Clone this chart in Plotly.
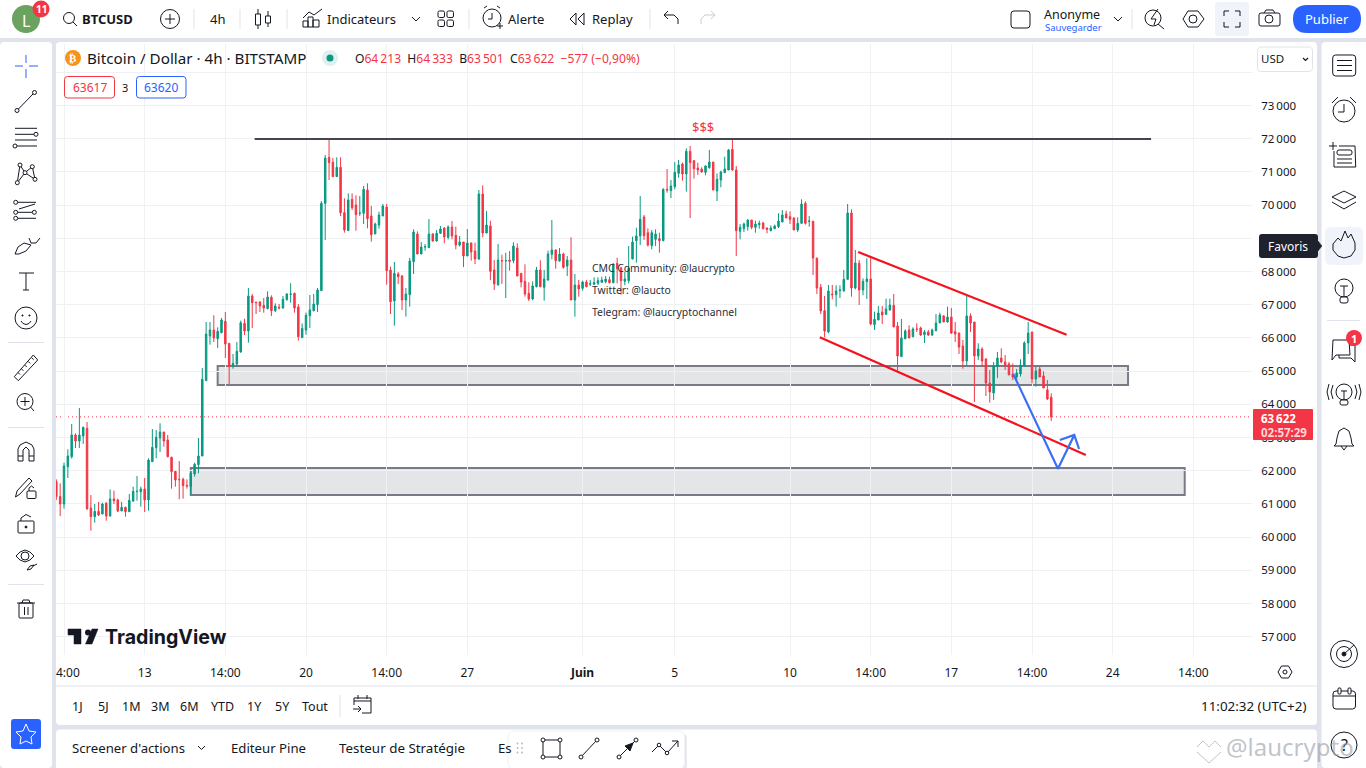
import plotly.graph_objects as go
import pandas as pd

# ---------- chart data ----------
opens = [
61670,61220,60997,62122,62423,63075,62895,63045,63276,60877,
60616,60776,60696,61017,60636,61148,61118,60786,60897,60766,
61088,61369,61369,61449,61118,62272,62694,62985,63166,62925,
62403,61981,61740,61740,61559,61519,61901,62182,62443,64712,
66057,66238,65977,66158,66499,65836,65154,65214,65575,66439,
66208,67262,67081,67081,66981,66881,67222,66820,66921,66901,
67152,67312,67342,66931,66007,66238,66670,66820,67001,67423,
70053,71439,71288,70856,71138,69772,69230,70174,70003,69752,
69752,70455,69672,69130,69401,69672,69943,68045,67112,67925,
67864,67142,67302,68296,69130,68527,68738,68718,69130,68919,
69150,69310,69029,69340,69089,68798,68889,68467,68858,68617,
68377,70334,69160,69370,68045,67593,68326,68316,68346,68326,
68708,67945,67704,67342,67172,67543,68045,67523,67744,68517,
68648,68316,68527,68166,68346,67142,67593,67493,67684,67613,
67613,67644,67674,67694,67754,67664,68246,68105,67704,67724,
68377,68929,69069,69642,69170,68778,68969,68989,68929,70475,
70435,70555,70957,71238,70937,71619,71338,71117,71087,70987,
71127,71298,70425,70756,70977,71057,71680,71057,69210,69290,
69350,69551,69330,69411,69461,69310,69230,69290,69350,69491,
69732,69652,69611,69250,69451,70053,69511,
69511,68407,67524,66821,66178,67323,67303,67423,67423,67764,
69762,67503,68246,67443,67694,67775,66399,66540,66781,66710,
66841,66981,66359,65435,65977,66238,66038,66268,66299,66098,
66178,66088,66218,66449,66660,66479,66630,66188,66148,65756,
65305,66660,66479,65455,65666,65365,64642,64341,65134,65395,
65275,65214,64913,64823,64913,65154,65847,66178,64762,65064,
64853,64431,64213]
highs = [
61740,61620,62242,62644,63407,63126,63889,63326,63467,61268,
60997,61057,61037,61057,61439,61399,61158,61057,60917,61298,
61519,61840,61519,61780,62373,63256,63226,63427,63166,63075,
62423,61981,62292,61790,61740,61981,62242,62985,65093,66479,
66479,66680,66318,66599,66780,65836,65515,65876,66519,66579,
67503,67322,67081,67101,67202,67403,67282,67041,67021,67262,
67342,67644,67362,67021,66439,66760,67292,67322,67503,70123,
71509,71991,71419,71439,71439,70204,70354,70354,70294,70274,
70575,70656,69973,69471,69802,70033,70033,68146,68286,67985,
67895,67503,68407,69270,69210,68889,68828,69581,69150,69250,
69370,69330,69391,69521,69350,69069,68889,69280,68868,68868,
70455,70595,69822,69531,68346,68828,68507,68567,68617,68878,
68848,67945,68216,67674,67704,68135,68336,68045,68628,69551,
68668,68708,68567,68467,69029,67925,67744,67724,67744,67744,
67824,67824,67844,67864,67844,68246,68417,68146,67995,68768,
69049,69320,70274,69702,69300,69250,69270,69170,70505,71087,
70756,71298,71358,71278,71710,71780,71358,71278,71138,71198,
71660,71298,70957,71037,71459,71690,71981,71178,69431,69471,
69571,69551,69531,69531,69491,69330,69391,69411,69752,69852,
69832,69812,69631,69631,70174,70113,69672,
69532,68407,67624,67262,67594,67594,67584,67584,68046,70034,
69873,68648,68347,67795,68397,68427,66791,66961,66961,67182,
67182,67323,66479,66570,66258,66379,66319,66439,66339,66238,
66238,66279,66720,66761,66690,66941,66901,66479,66158,65937,
67262,66740,66479,65837,65716,65385,65034,65275,65576,65686,
65485,65275,65234,65064,65355,65897,66479,66178,65134,65134,
64993,64732,64333]
lows = [
61120,60635,60857,61780,62363,62684,62684,62804,60816,60194,
60435,60636,60696,60495,60616,60997,60756,60786,60616,60756,
61057,61098,60917,60756,60796,62262,62373,62563,62724,62403,
61459,61519,61138,61158,61459,61278,61820,61921,62443,64712,
65796,65876,65696,66138,65395,64612,65073,65154,65555,66087,
65856,66298,66720,66780,66760,66860,66660,66780,66860,66881,
67122,67061,66760,65917,65997,66097,66298,66800,66780,67423,
68949,70756,70856,70856,69672,69170,69230,69852,69230,69672,
69431,69300,68899,69130,69290,69672,67603,66720,66368,67624,
66840,66640,66941,67925,68527,68527,68627,68718,68899,68899,
69130,68848,68969,68969,68668,68748,68135,68467,68326,68226,
68346,69029,69150,67744,67443,67583,67624,67202,68025,68246,
67864,67523,67242,67112,67132,67523,67523,67122,67724,68366,
68085,68296,68085,67864,67142,66640,67242,67423,67523,67563,
67593,67593,67664,67644,67644,67644,67644,67302,67583,67644,
68366,68266,68798,68949,68748,68668,68768,68567,68909,70374,
70214,70475,70826,70736,70405,69611,70796,70907,70977,70897,
71097,70455,70123,70535,70977,71057,71037,68467,68969,69190,
69230,69270,69170,69290,69270,69150,69210,69270,69310,69491,
69611,69431,69250,69190,69431,69411,69350,
67895,67323,66720,66018,66138,67162,66941,67202,67383,67744,
67242,67463,66991,67283,67172,66379,66238,66540,66419,66690,
66821,66329,65014,65435,65957,65997,66018,66178,66058,65847,
66058,66058,66198,66449,66479,66459,66118,65877,65516,65074,
65154,66178,64070,65335,65134,64250,64050,64130,64793,65234,
65034,64883,64732,64732,64833,65134,65516,64632,64532,64823,
64491,64130,63501]
closes = [
61220,61000,62142,62443,63075,62895,63075,63306,60857,60616,
60776,60666,60997,60636,61148,61098,60786,60897,60766,61108,
61379,61379,61449,61118,62322,62704,63005,63166,62895,62423,
61971,61720,61730,61549,61539,61921,62192,62443,64752,66117,
66238,65997,66198,66539,65816,65134,65234,65595,66459,66208,
67262,67061,67061,66961,66901,67232,66820,66961,66901,67162,
67322,67322,66901,66037,66288,66680,66840,67021,67443,70053,
71419,71278,70856,71138,69772,69250,70154,69923,69712,69762,
70475,69591,69110,69431,69702,69973,68025,67091,67945,67844,
67142,67322,68316,69190,68527,68738,68748,69130,68919,69150,
69280,69039,69340,69069,68798,68889,68467,68858,68587,68377,
70334,69160,69401,68005,67624,68346,68316,68326,68306,68768,
67864,67684,67322,67172,67563,68045,67543,67774,68527,68648,
68326,68527,68125,68346,67142,67593,67473,67684,67543,67634,
67664,67724,67744,67774,67664,68226,68085,67724,67774,68095,
68889,69069,69571,69079,68798,69170,69130,68929,70475,70455,
70575,70987,71208,70937,71619,71278,71097,71057,70997,71178,
71298,70455,70776,70997,71087,71660,71057,69230,69330,69431,
69551,69330,69431,69451,69290,69270,69310,69370,69521,69702,
69611,69571,69250,69451,70033,69451,69521,
68407,67503,66811,66208,67413,67303,67413,67443,67764,69762,
67503,68256,67443,67704,67775,66419,66560,66750,66690,66871,
66991,66329,65455,65997,66208,65997,66268,66258,66088,66178,
66088,66238,66449,66690,66479,66630,66148,66118,65726,65305,
66660,66449,65455,65666,65305,64642,64371,65154,65395,65275,
65154,64883,64823,64943,65184,65847,66148,64762,65004,64823,
64491,64160,63622]
assert len(opens) == len(highs) == len(lows) == len(closes)
last_bar = "2024-06-21 10:00"

price_ticks = [74000,73000,72000,71000,70000,69000,68000,67000,66000,65000,64000,63000,62000,61000,60000,59000,58000,57000]
time_ticks = ["2024-05-09 14:00","2024-05-13 02:00","2024-05-16 14:00","2024-05-20 02:00","2024-05-23 14:00",
              "2024-05-27 02:00","2024-06-01 02:00","2024-06-05 02:00","2024-06-10 02:00","2024-06-13 14:00",
              "2024-06-17 02:00","2024-06-20 14:00","2024-06-24 02:00","2024-06-27 14:00"]
time_labels = ["","13","14:00","20","14:00","27","<b>Juin</b>","5","10","14:00","17","14:00","24","14:00"]

resistance_t = ["2024-05-17 20:30","2024-06-25 18:00"]
resistance_p = [71990,71990]
zone_upper_t = ["2024-05-16 06:00","2024-06-24 18:00"]
zone_upper_p = [64580,65154]
zone_lower_t = ["2024-05-15 02:00","2024-06-27 05:00"]
zone_lower_p = [61268,62081]
channel_top_t = ["2024-06-13 01:00","2024-06-22 02:00"]
channel_top_p = [68587,66096]
channel_bot_t = ["2024-06-11 09:00","2024-06-22 22:00"]
channel_bot_p = [66018,62473]
forecast_t = ["2024-06-19 18:30","2024-06-21 17:00","2024-06-22 10:00"]
forecast_p = [64913,62060,63075]
arrow_t = ["2024-06-21 19:00","2024-06-22 10:00","2024-06-22 15:00"]
arrow_p = [62925,63075,62654]

# ---------- page geometry ----------
W, H = 1366, 768
FONT = "Noto Sans"
INK = "#131722"
GRID = "#f0f1f4"
PANEL_HI = "#f0f3fa"
RED = "#f23645"
GREEN = "#089981"
BLUE = "#2962ff"
SEP = "#e0e3eb"
PLOT_L, PLOT_R, PLOT_T, PLOT_B = 56, 1252, 44, 655
PX_PER_K = 33.2
Y_AT_72K = 138.7

def X(x): return x / W
def Y(y): return 1 - y / H

shapes, annotations = [], []

def pl(points, color=INK, w=1, closed=False, fill=None, layer="above"):
    d = "M " + " L ".join(f"{X(a):.5f} {Y(b):.5f}" for a, b in points) + (" Z" if closed else "")
    shapes.append(dict(type="path", path=d, xref="paper", yref="paper", layer=layer,
                       line=dict(color=color, width=w), fillcolor=fill or "rgba(0,0,0,0)"))

def rr(x0, y0, x1, y1, r=0, fill=None, color=None, w=1, layer="above"):
    a, b, c, d = X(x0), Y(y0), X(x1), Y(y1)
    rx, ry = r / W, r / H
    p = (f"M {a+rx:.5f} {b:.5f} L {c-rx:.5f} {b:.5f} Q {c:.5f} {b:.5f} {c:.5f} {b-ry:.5f} "
         f"L {c:.5f} {d+ry:.5f} Q {c:.5f} {d:.5f} {c-rx:.5f} {d:.5f} L {a+rx:.5f} {d:.5f} "
         f"Q {a:.5f} {d:.5f} {a:.5f} {d+ry:.5f} L {a:.5f} {b-ry:.5f} Q {a:.5f} {b:.5f} {a+rx:.5f} {b:.5f} Z")
    shapes.append(dict(type="path", path=p, xref="paper", yref="paper", layer=layer,
                       line=dict(color=color or "rgba(0,0,0,0)", width=w if color else 0),
                       fillcolor=fill or "rgba(0,0,0,0)"))

def circ(cx, cy, r, color=INK, w=1, fill=None, layer="above"):
    shapes.append(dict(type="circle", xref="paper", yref="paper", layer=layer,
                       x0=X(cx - r), x1=X(cx + r), y0=Y(cy - r), y1=Y(cy + r),
                       line=dict(color=color or "rgba(0,0,0,0)", width=w if color else 0),
                       fillcolor=fill or "rgba(0,0,0,0)"))

def txt(x, y, s, size=13, color=INK, anchor="left", font=FONT):
    annotations.append(dict(x=X(x), y=Y(y), xref="paper", yref="paper", text=s, showarrow=False,
                            xanchor=anchor, yanchor="middle", align=anchor, borderpad=0, borderwidth=0,
                            font=dict(family=font, size=size, color=color)))

# ---------- panels ----------
rr(0, 0, W, 38, 0, "#ffffff", layer="below")
rr(0, 42, 52, H, 4, "#ffffff", layer="below")
rr(56, 42, 1317, 725, 4, "#ffffff", layer="below")
rr(56, 729.5, 1317, H + 4, 4, "#ffffff", layer="below")
rr(1321.5, 42, W + 4, H, 4, "#ffffff", layer="below")

# time axis separator
pl([(56, 686), (1317, 686)], SEP, 1)

# ---------- top bar ----------
circ(26, 19, 14, None, 0, "#6aa25f")
txt(26, 21, "L", 16, "#ffffff", "center")
circ(41, 9, 8.5, None, 0, RED)
txt(41, 9, "<b>11</b>", 10, "#ffffff", "center")
circ(69, 18, 5.5); pl([(73, 22), (77, 26)])
txt(82, 19, "<b>BTCUSD</b>", 13)
circ(170, 19, 9.5); pl([(165, 19), (175, 19)]); pl([(170, 14), (170, 24)])
for sx in (194, 240, 287, 469, 650):
    pl([(sx, 9), (sx, 29)], SEP, 1)
pl([(1132, 9), (1132, 29)], SEP, 1)
txt(217, 19, "4h", 13, INK, "center")
pl([(258, 9), (258, 29)]); rr(255.5, 14, 260.5, 25, 0, "#ffffff", INK)
pl([(268, 11), (268, 27)]); rr(265.5, 16, 270.5, 23, 0, "#ffffff", INK)
pl([(303, 18), (309, 12), (314, 15), (322, 9)])
rr(303, 21, 308, 27, 0, None, INK); rr(308, 17, 313, 27, 0, None, INK); rr(313, 20, 319, 27, 0, None, INK)
txt(327, 19, "Indicateurs", 13)
pl([(412, 17), (416, 21), (420, 17)])
for gx, gy in ((438, 11), (447, 11), (438, 20), (447, 20)):
    rr(gx, gy, gx + 6.5, gy + 6.5, 1.5, None, INK)
circ(492, 18, 9); pl([(492, 13), (492, 19), (488, 19)])
pl([(484, 8), (487, 6)]); pl([(497, 6), (500, 8)]); pl([(497, 26), (503, 26)]); pl([(500, 23), (500, 29)])
txt(508, 19, "Alerte", 13)
pl([(576, 13), (570, 19), (576, 25)], closed=True); pl([(584, 13), (578, 19), (584, 25)], closed=True)
txt(592, 19, "Replay", 13)
pl([(668, 11), (664, 15), (668, 19)]); pl([(664, 15), (674, 15), (678, 19), (678, 24)])
pl([(711, 11), (715, 15), (711, 19)], "#c9ccd6"); pl([(715, 15), (705, 15), (701, 19), (701, 24)], "#c9ccd6")
rr(1011, 11, 1030, 28, 3, None, INK)
txt(1044, 14.5, "Anonyme", 12.5)
txt(1045, 27, "Sauvegarder", 9.5, BLUE)
pl([(1114, 17), (1118, 21), (1122, 17)])
circ(1153, 18, 8); pl([(1158, 24), (1164, 29)])
pl([(1158, 9), (1151, 19), (1156, 19), (1154, 25)], INK, 1)
pl([(1183, 19), (1188, 11), (1198, 11), (1204, 19), (1198, 27), (1188, 27)], closed=True); circ(1193, 19, 4)
rr(1215, 2, 1249, 36, 4, PANEL_HI)
for a, b, c, d, e, f in ((1224, 16, 1224, 11, 1229, 11), (1235, 11, 1240, 11, 1240, 16),
                         (1240, 22, 1240, 27, 1235, 27), (1229, 27, 1224, 27, 1224, 22)):
    pl([(a, b), (c, d), (e, f)])
rr(1259, 13, 1280, 26, 2, None, INK); circ(1269, 19, 4); pl([(1264, 13), (1266, 10), (1273, 10), (1275, 13)])
rr(1293, 5, 1361, 33, 14, BLUE)
txt(1327, 19, "Publier", 13, "#ffffff", "center")

# ---------- chart legend ----------
circ(73, 58, 8, None, 0, "#f7931a")
txt(73, 58, "<b>₿</b>", 11, "#ffffff", "center", "DejaVu Sans")
txt(87, 58, "Bitcoin / Dollar · 4h · BITSTAMP", 15.2)
circ(330, 58, 8, None, 0, "#dff1ee")
circ(330, 58, 3.5, None, 0, GREEN)
def v(s): return f'<span style="color:{RED}">{s}</span>'
txt(355, 58, "O" + v("64\u2009213") + "  H" + v("64\u2009333") + "  B" + v("63\u2009501") + "  C" + v("63\u2009622")
    + "  " + v("−577 (−0,90%)"), 12.1)
rr(64.5, 76.5, 114.5, 98, 3, "#ffffff", RED)
txt(89.5, 87, "63617", 12, RED, "center")
txt(125, 87, "3", 11, INK, "center")
rr(136.5, 76.5, 186, 98, 3, "#ffffff", BLUE)
txt(161, 87, "63620", 12, BLUE, "center")
rr(1257.5, 47, 1312.5, 71.5, 4, "#ffffff", SEP)
txt(1261, 59, "USD", 11.5, INK)
pl([(1303, 58), (1305.5, 60.5), (1308, 58)], INK, 1.2)

txt(703, 127, "$$$", 13, RED, "center")
txt(592, 268, "CMC Community: @laucrypto", 10.4, "#2a2e39")
txt(592, 290, "Twitter: @laucto", 10.4, "#2a2e39")
txt(592, 312, "Telegram: @laucryptochannel", 10.4, "#2a2e39")

# TradingView logo
pl([(68, 629), (81, 629), (81, 644), (74, 644), (74, 635), (68, 635)], INK, 0.5, True, INK)
circ(88, 632.5, 3, None, 0, INK)
pl([(92, 629), (98, 629), (92, 644), (85.5, 644)], INK, 0.5, True, INK)
txt(105, 637, "<b>TradingView</b>", 19.6, INK, "left", "Inter")

# time axis extras
txt(56, 672, "4:00", 12, INK)
pl([(1278, 672), (1281.5, 666), (1288.5, 666), (1292, 672), (1288.5, 678), (1281.5, 678)], closed=True)
circ(1285, 672, 2)

# current price tag
rr(1253, 409, 1313, 440, 1, RED)
txt(1261, 418, "<b>63\u2009622</b>", 11.5, "#ffffff")
txt(1261, 432, "<b>02:57:29</b>", 11.5, "#ffd7da")

# ---------- left toolbar ----------
CROSS = "#2962ff"
pl([(15, 66), (23, 66)], CROSS); pl([(29, 66), (38, 66)], CROSS); pl([(26, 55), (26, 63)], CROSS); pl([(26, 69), (26, 78)], CROSS)
pl([(18.5, 109), (33, 94)]); circ(17, 110.5, 2); circ(34.5, 92.5, 2)
for ly, a, b in ((128.3, 15, 37), (134.3, 15, 34), (140, 15, 37), (146, 17, 37)):
    pl([(a, ly), (b, ly)])
circ(36, 134.3, 2); circ(15, 146, 2)
nodes = [(20, 165), (32.3, 166.7), (25, 172.7), (17.3, 182.7), (35, 179.3)]
pl([nodes[3], nodes[0], nodes[2], nodes[1], nodes[4], nodes[2], nodes[3]])
for n in nodes: circ(n[0], n[1], 2, INK, 1, "#ffffff")
pl([(18, 202.3), (36, 202.3)]); pl([(18, 212.3), (32, 212.3)]); pl([(18, 218.3), (36, 218.3)])
pl([(19, 209), (35, 204)], INK, 1)
for n in ((15.7, 202.3), (15.7, 212.3), (15.7, 218.3), (34.3, 212.3)): circ(n[0], n[1], 2)
pl([(15, 254), (18, 247), (24, 243), (31, 245), (26, 251), (19, 254)], closed=True)
pl([(29, 238), (31, 243), (36, 243), (40, 238)])
pl([(19, 273), (34, 273)]); pl([(26, 273), (26, 290)]); pl([(23, 290), (29, 290)])
circ(26, 318, 11); circ(22.5, 315.5, 0.6, INK, 1, INK); circ(29.5, 315.5, 0.6, INK, 1, INK)
pl([(21, 321), (23, 323.5), (26, 324.5), (29, 323.5), (31, 321)])
pl([(8, 342.5), (44, 342.5)], SEP)
pl([(14.3, 376.7), (33.3, 355), (37.7, 360), (18.3, 380.7)], closed=True)
for k in range(5):
    a = 18 + k * 3.4; b = 372.5 - k * 3.7
    pl([(a, b), (a + 2, b + 2)])
circ(25, 401.5, 8); pl([(25, 397), (25, 406)]); pl([(20.5, 401.5), (29.5, 401.5)]); pl([(30.5, 407), (34, 411)])
pl([(8, 427.5), (44, 427.5)], SEP)
pl([(18, 461), (18, 449), (20, 445), (26, 442), (32, 445), (34, 449), (34, 461), (29, 461), (29, 450), (26, 447), (23, 450), (23, 461)], closed=True)
pl([(18, 456), (23, 456)]); pl([(29, 456), (34, 456)])
pl([(15.5, 497), (17, 491), (29, 478), (32, 481), (20, 494)], closed=True)
rr(27, 491, 36, 498.5, 1, "#ffffff", INK); pl([(29, 491), (29, 488), (31.5, 486), (34, 488)])
rr(18, 521, 34, 533, 1, None, INK); pl([(21, 521), (21, 518), (26, 514.5), (31, 517)]); circ(26, 527, 1, INK, 1, INK)
pl([(16, 556), (20, 552), (25, 550), (30, 552), (34, 556), (30, 560), (25, 562), (20, 560)], closed=True)
circ(25, 556, 4)
pl([(27, 570), (30, 566), (34, 565), (31, 569)], closed=True); pl([(33, 566), (37, 564)])
pl([(8, 584.5), (44, 584.5)], SEP)
rr(19, 603, 33, 618, 1, None, INK); pl([(17, 603), (35, 603)]); pl([(22, 603), (23, 600), (29, 600), (30, 603)])
pl([(24.5, 607), (24.5, 615)]); pl([(28, 607), (28, 615)])
rr(11, 719, 41, 749, 3, BLUE)
pl([(26, 724), (29, 731), (36, 732), (31, 737), (32, 744), (26, 741), (20, 744), (21, 737), (16, 732), (23, 731)], "#ffffff", 1, True)

# ---------- right toolbar ----------
rr(1332.7, 55, 1355.7, 76, 3, None, INK)
for ly in (60.5, 65.5, 70.5): pl([(1337, ly), (1352, ly)])
circ(1344, 111, 11); pl([(1344, 104), (1344, 112), (1338, 112)])
pl([(1332, 103), (1338, 97)]); pl([(1350, 97), (1356, 103)])
pl([(1339, 146), (1355, 146), (1355.7, 167), (1334, 167), (1334, 151)])
pl([(1329, 146), (1337, 146)]); pl([(1333, 142), (1333, 150)])
rr(1337, 150, 1352, 155, 2, None, INK); pl([(1337, 159), (1352, 159)]); pl([(1337, 163), (1352, 163)])
pl([(1332, 197), (1344, 191), (1356, 197), (1344, 203)], closed=True); pl([(1332, 202), (1344, 209), (1356, 202)])
rr(1325, 227, 1363, 265, 6, PANEL_HI)
pl([(1345, 231), (1348, 238), (1351, 234), (1355, 243), (1355, 250), (1351, 256), (1344, 258), (1338, 256), (1333, 250), (1333, 244), (1338, 238), (1341, 241)], closed=True)
circ(1344, 288, 9); rr(1340, 297, 1348, 303, 2, "#ffffff", INK)
pl([(1340, 286), (1348, 286)]); pl([(1344, 286), (1344, 297)])
pl([(1327, 320.5), (1360, 320.5)], SEP)
pl([(1333, 340), (1349, 340), (1350, 355), (1336, 355), (1332, 360)], closed=True)
pl([(1339, 355), (1339, 358), (1351, 358), (1355, 362), (1355, 345), (1350, 345)])
circ(1354, 338, 8, None, 0, RED)
txt(1354, 338, "<b>1</b>", 11, "#ffffff", "center")
circ(1344, 392, 8); rr(1340, 400, 1348, 405, 2, "#ffffff", INK)
pl([(1341, 391), (1347, 391)]); pl([(1344, 391), (1344, 400)])
pl([(1333, 385), (1331, 392), (1333, 399)]); pl([(1355, 385), (1357, 392), (1355, 399)])
pl([(1329, 384), (1327, 392), (1329, 400)]); pl([(1359, 384), (1361, 392), (1359, 400)])
pl([(1344, 428), (1339, 431), (1337, 438), (1336, 444), (1334, 446), (1354, 446), (1352, 444), (1351, 438), (1349, 431)], closed=True)
pl([(1341, 446), (1344, 450), (1347, 446)])
circ(1344, 654, 13.5); circ(1344, 654, 7.5); circ(1344, 654, 2, INK, 1, INK); pl([(1344, 654), (1354, 645)])
rr(1333, 691, 1355.5, 709, 3, None, INK); pl([(1333, 696), (1355.5, 696)])
rr(1338, 688, 1341, 694, 1, "#ffffff", INK); rr(1348, 688, 1351, 694, 1, "#ffffff", INK)
circ(1344, 745, 13)
txt(1344, 745, "?", 16, INK, "center")

# Favoris tooltip
rr(1259, 234, 1318, 258, 3, "#1e222d")
pl([(1318, 241), (1322, 246), (1318, 251)], "#1e222d", 0.5, True, "#1e222d")
txt(1288, 246, "Favoris", 12, "#ffffff", "center")

# ---------- bottom bars ----------
for cx, s in zip((77, 103, 131, 160, 189, 222, 254, 282, 315),
                 ("1J", "5J", "1M", "3M", "6M", "YTD", "1Y", "5Y", "Tout")):
    txt(cx, 706, s, 12.5, INK, "center")
pl([(340, 695), (340, 717)], SEP)
pl([(354, 705), (354, 698), (371, 698), (371, 713), (362, 713)]); pl([(354, 701), (371, 701)])
pl([(358, 695), (358, 699)]); pl([(367, 695), (367, 699)])
pl([(353, 709), (361, 709)]); pl([(358, 706), (361, 709), (358, 712)])
txt(1306, 706, "11:02:32 (UTC+2)", 13.4, INK, "right")

txt(72, 748, "Screener d'actions", 13.2)
pl([(198, 746), (201.5, 749.5), (205, 746)])
txt(231, 748, "Editeur Pine", 13.2)
txt(339, 748, "Testeur de Stratégie", 13.4)
txt(498, 748, "Es", 13.2)

# floating drawing toolbar
rr(510, 733, 687, 771, 6, "#e8e9ee")
rr(508, 731, 684.5, 769, 6, "#ffffff", "#f0f1f5")
for dx in (517.5, 522):
    for dy in (743.5, 748, 752.5):
        circ(dx, dy, 0.9, None, 0, "#b2b5be")
rr(543, 740, 560, 757, 0, None, INK)
for c in ((543, 740), (560, 740), (543, 757), (560, 757)): circ(c[0], c[1], 2, INK, 1, "#ffffff")
pl([(581, 757), (597, 740)]); circ(581, 757, 2, INK, 1, "#ffffff"); circ(597, 740, 2, INK, 1, "#ffffff")
pl([(619, 757), (636, 740)]); circ(619, 757, 2, INK, 1, "#ffffff"); circ(636, 740, 2, INK, 1, "#ffffff")
pl([(625, 746), (633, 743), (630, 751)], INK, 1, True, INK)
pl([(652, 752), (659, 745), (667, 753), (678, 741)]); pl([(672, 741), (678, 741), (678, 747)])
circ(659, 745, 1.8, INK, 1, "#ffffff"); circ(667, 753, 1.8, INK, 1, "#ffffff")

# watermark
WM = "rgba(150,155,165,0.6)"
pl([(1197, 747), (1203, 741), (1209, 747), (1215, 741), (1221, 747)], WM, 1)
pl([(1197, 752), (1209, 763), (1221, 752)], WM, 1)
txt(1226, 746, "@laucrypto", 24, WM)

# ---------- chart marks ----------
dates = pd.date_range(end=last_bar, periods=len(closes), freq="4h")

fig = go.Figure()
fig.add_trace(go.Candlestick(
    x=dates, open=opens, high=highs, low=lows, close=closes,
    increasing=dict(line=dict(color=GREEN, width=1), fillcolor=GREEN),
    decreasing=dict(line=dict(color=RED, width=1), fillcolor=RED),
    whiskerwidth=0, hoverinfo="skip", showlegend=False))

def seg(t, p, color, w):
    fig.add_trace(go.Scatter(x=t, y=p, mode="lines", line=dict(color=color, width=w),
                             hoverinfo="skip", showlegend=False, cliponaxis=True))

seg(resistance_t, resistance_p, "#434651", 2)
seg(channel_top_t, channel_top_p, "#f5121d", 2.2)
seg(channel_bot_t, channel_bot_p, "#f5121d", 2.2)
seg(forecast_t, forecast_p, "#3a6ff5", 2.2)
seg(arrow_t, arrow_p, "#3a6ff5", 2.2)

for t, p in ((zone_upper_t, zone_upper_p), (zone_lower_t, zone_lower_p)):
    shapes.append(dict(type="rect", xref="x", yref="y", x0=t[0], x1=t[1], y0=p[0], y1=p[1], layer="below",
                       line=dict(color="#787b86", width=2), fillcolor="rgba(120,123,134,0.2)"))
shapes.append(dict(type="line", xref="paper", yref="y", x0=X(PLOT_L), x1=X(PLOT_R), y0=closes[-1], y1=closes[-1],
                   layer="below", line=dict(color=RED, width=1, dash="1px,3px")))

y_top = 72000 + (Y_AT_72K - PLOT_T) / PX_PER_K * 1000
y_bot = 72000 - (PLOT_B - Y_AT_72K) / PX_PER_K * 1000
price_text = ["" if v_ > 73000 else f"{v_:,}".replace(",", "\u2009") for v_ in price_ticks]

fig.update_layout(
    width=W, height=H, margin=dict(l=0, r=0, t=0, b=0), autosize=False,
    paper_bgcolor=SEP, plot_bgcolor="#ffffff", showlegend=False, boxgap=0.45,
    font=dict(family=FONT, color=INK),
    xaxis=dict(domain=[X(PLOT_L), X(PLOT_R)], type="date",
               range=["2024-05-09 05:40", "2024-06-30 03:04"],
               tickmode="array", tickvals=time_ticks, ticktext=time_labels,
               showgrid=True, gridcolor=GRID, gridwidth=1, zeroline=False, showline=False,
               ticks="outside", ticklen=7, tickcolor="rgba(0,0,0,0)", tickfont=dict(size=12, color=INK),
               rangeslider=dict(visible=False), fixedrange=True),
    yaxis=dict(domain=[Y(PLOT_B), Y(PLOT_T)], side="right", range=[y_bot, y_top],
               tickmode="array", tickvals=price_ticks, ticktext=price_text,
               showgrid=True, gridcolor=GRID, gridwidth=1, zeroline=False, showline=False,
               ticks="outside", ticklen=6, tickcolor="rgba(0,0,0,0)", tickfont=dict(size=11.5, color=INK),
               fixedrange=True),
    shapes=shapes, annotations=annotations,
)

fig.write_html("out.html", config=dict(displayModeBar=False),
               post_script="document.body.style.margin='0';document.documentElement.style.overflow='hidden';document.body.style.overflow='hidden';")
